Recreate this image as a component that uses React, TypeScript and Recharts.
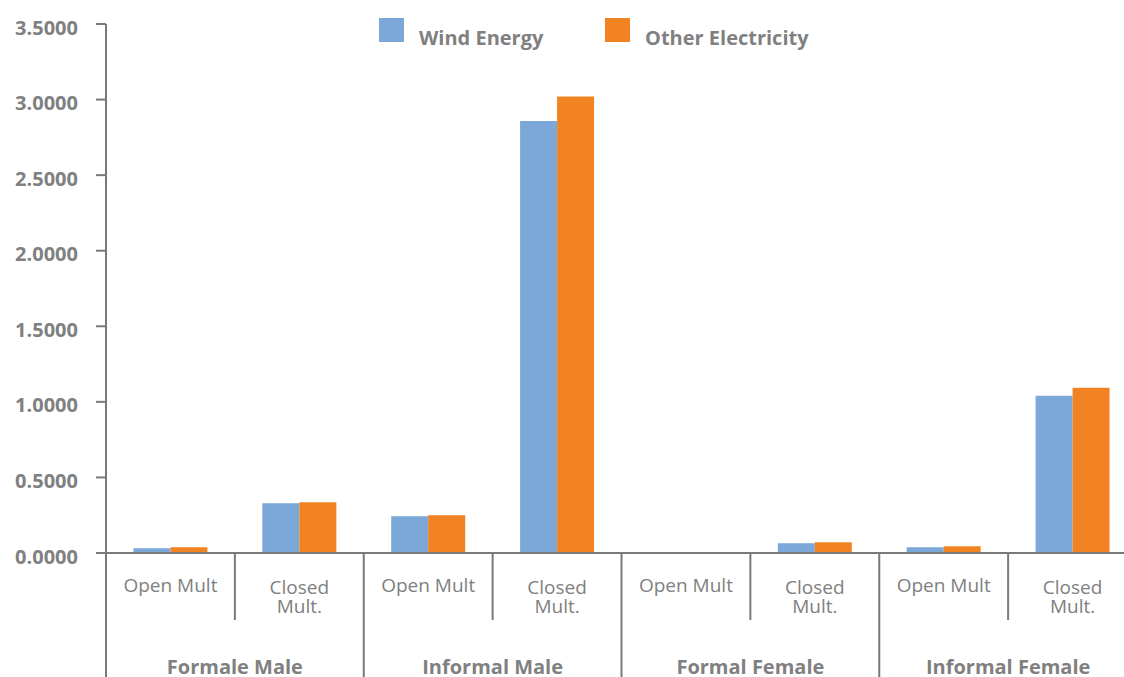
import { BarChart, Bar, XAxis, YAxis, Legend } from "recharts"

const groups = ["Formale Male", "Informal Male", "Formal Female", "Informal Female"]
const subLabels = ["Open Mult", "Closed Mult."]
const seriesNames = ["Wind Energy", "Other Electricity"]
const windEnergy = [0.031, 0.329, 0.243, 2.859, 0, 0.064, 0.038, 1.04]
const otherElectricity = [0.038, 0.336, 0.25, 3.02, 0, 0.071, 0.044, 1.093]
const yTicks = [0, 0.5, 1, 1.5, 2, 2.5, 3, 3.5]

const data = windEnergy.map((w, i) => ({
  key: `${groups[Math.floor(i / 2)]}|${subLabels[i % 2]}`,
  sub: subLabels[i % 2],
  group: groups[Math.floor(i / 2)],
  wind: w,
  other: otherElectricity[i],
}))

const W = 1140
const H = 677
const LEFT = 106
const RIGHT_M = 3
const TOP = 24
const XH = 124
const PLOT_BOTTOM = H - XH
const STEP = (W - LEFT - RIGHT_M) / data.length

const FONT = "'Open Sans', 'Noto Sans', sans-serif"
const TEXT = "#808080"
const AXIS = "#767a7b"
const BLUE = "#7ba7d9"
const ORANGE = "#f28322"

function XTick(props: any) {
  const { payload, index } = props
  const x = payload.coordinate
  const d = data[index]
  const lines = d.sub.split(" ")
  const closed = d.sub.startsWith("Closed")
  const right = x + STEP / 2
  const endOfGroup = index % 2 === 1
  return (
    <g>
      {index === 0 && (
        <line x1={LEFT} x2={LEFT} y1={PLOT_BOTTOM} y2={H} stroke={AXIS} strokeWidth={2} />
      )}
      <line
        x1={right}
        x2={right}
        y1={PLOT_BOTTOM}
        y2={endOfGroup ? H : 620}
        stroke={AXIS}
        strokeWidth={2}
      />
      {closed ? (
        <text textAnchor="middle" fontFamily={FONT} fontSize={19} fill={TEXT}>
          <tspan x={x} y={594}>{lines[0]}</tspan>
          <tspan x={x} y={613}>{lines[1]}</tspan>
        </text>
      ) : (
        <text x={x} y={592} textAnchor="middle" fontFamily={FONT} fontSize={19} fill={TEXT}>
          {d.sub}
        </text>
      )}
      {endOfGroup && (
        <text
          x={x - STEP / 2}
          y={674}
          textAnchor="middle"
          fontFamily={FONT}
          fontSize={20}
          fontWeight="bold"
          fill={TEXT}
        >
          {d.group}
        </text>
      )}
    </g>
  )
}

function YTick(props: any) {
  const { y, payload } = props
  return (
    <text x={78} y={y + 10.5} textAnchor="end" fontFamily={FONT} fontSize={20} fontWeight="bold" fill={TEXT}>
      {payload.value.toFixed(4)}
    </text>
  )
}

const legendPos = [379, 605]

function LegendContent(props: any) {
  const items = props.payload || []
  return (
    <svg width={W} height={50} style={{ display: "block" }}>
      {seriesNames.map((name, i) => {
        const it = items.find((p: any) => p.value === name)
        return (
          <g key={name}>
            <rect x={legendPos[i]} y={18} width={25} height={24} fill={it ? it.color : "#ccc"} />
            <text
              x={legendPos[i] + 40}
              y={45}
              fontFamily={FONT}
              fontSize={20}
              fontWeight="bold"
              fill={TEXT}
            >
              {name}
            </text>
          </g>
        )
      })}
    </svg>
  )
}

export default function App() {
  return (
    <div
      style={{
        position: "absolute",
        left: 0,
        top: 0,
        width: 1124,
        height: H,
        overflow: "hidden",
        background: "#fff",
      }}
    >
      <BarChart
        width={W}
        height={H}
        data={data}
        margin={{ top: TOP, right: RIGHT_M, bottom: 0, left: 0 }}
        barCategoryGap="21.3%"
        barGap={0}
      >
        <XAxis
          dataKey="key"
          interval={0}
          height={XH}
          tickLine={false}
          axisLine={{ stroke: AXIS, strokeWidth: 2 }}
          tick={<XTick />}
        />
        <YAxis
          width={LEFT}
          domain={[0, 3.5]}
          ticks={yTicks}
          interval={0}
          tickSize={10}
          tickLine={{ stroke: AXIS, strokeWidth: 2 }}
          axisLine={{ stroke: AXIS, strokeWidth: 2 }}
          tick={<YTick />}
        />
        <Legend
          layout="horizontal"
          verticalAlign="middle"
          align="center"
          wrapperStyle={{ top: 0, left: 0, width: W }}
          content={<LegendContent />}
        />
        <Bar dataKey="wind" name={seriesNames[0]} fill={BLUE} isAnimationActive={false} />
        <Bar dataKey="other" name={seriesNames[1]} fill={ORANGE} isAnimationActive={false} />
      </BarChart>
    </div>
  )
}
